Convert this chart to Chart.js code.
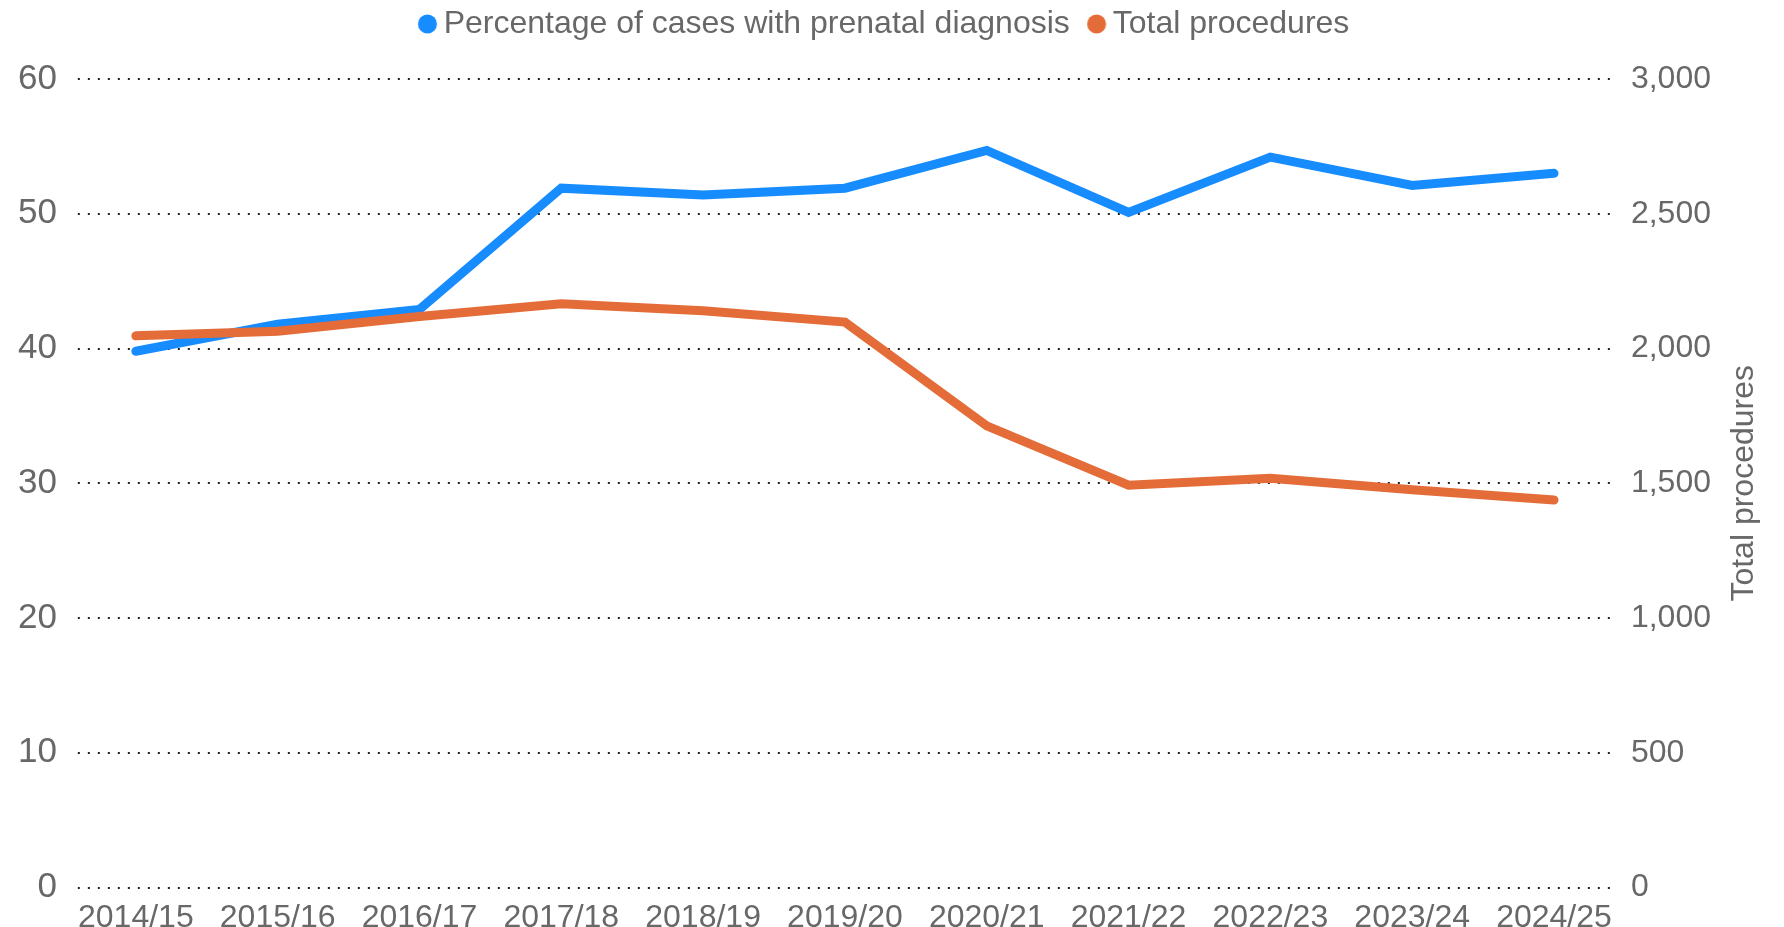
<!DOCTYPE html>
<html>
<head>
<meta charset="utf-8">
<script src="https://cdn.jsdelivr.net/npm/chart.js@4/dist/chart.umd.min.js"></script>
<style>
html,body{margin:0;padding:0;background:#fff}
#wrap{width:1784px;height:927px}
</style>
</head>
<body>
<div id="wrap"><canvas id="lineChart"></canvas></div>
<script>
var years = ['2014/15','2015/16','2016/17','2017/18','2018/19','2019/20','2020/21','2021/22','2022/23','2023/24','2024/25']
var pctPrenatal = [39.8,41.8,42.9,51.9,51.4,51.9,54.7,50.1,54.2,52.1,53.0]
var totalProcedures = [2047,2064,2119,2166,2140,2098,1713,1493,1519,1476,1438]
var seriesNames = ['Percentage of cases with prenatal diagnosis','Total procedures']
var seriesColors = ['#168cff','#e46c38']
var rightTitle = 'Total procedures'
var textGrey = '#686868'
var fontFamily = 'Liberation Sans, Arial, sans-serif'

// legend dot drawn off-centre so it sits closer to its text
const makeDot = function(color){
	var c = document.createElement('canvas')
	c.width = 40
	c.height = 20
	var g = c.getContext('2d')
	g.fillStyle = color
	g.beginPath()
	g.arc(26.3, 10, 9.5, 0, Math.PI * 2)
	g.fill()
	return c
}
var legendDots = seriesColors.map(makeDot)

// push the plot down below the legend
var legendGap = {
	id:'legendGap',
	beforeLayout: function(chart){
		var lg = chart.legend
		if (lg && !lg._gapDone) {
			var fit = lg.fit
			lg.fit = function(){
				fit.call(this)
				this.height += 29
			}
			lg._gapDone = true
		}
	}
}

// dotted gridlines at the left axis ticks, a bit shorter than the chart area
var dottedGrid = {
	id:'dottedGrid',
	beforeDatasetsDraw: function(chart){
		var ctx = chart.ctx
		var x = chart.scales.x
		var y = chart.scales.y
		var x0 = x.getPixelForValue(0) - 58
		var x1 = x.getPixelForValue(years.length - 1) + 60
		ctx.save()
		ctx.strokeStyle = '#222'
		ctx.lineWidth = 2
		ctx.setLineDash([2,8])
		y.ticks.map(t => {
			var py = Math.round(y.getPixelForValue(t.value))
			ctx.beginPath()
			ctx.moveTo(x0, py)
			ctx.lineTo(x1, py)
			ctx.stroke()
		})
		ctx.restore()
	}
}

// right axis title, reading bottom to top
var rightAxisTitle = {
	id:'rightAxisTitle',
	afterDraw: function(chart){
		var ctx = chart.ctx
		var area = chart.chartArea
		ctx.save()
		ctx.translate(1744, (area.top + area.bottom) / 2)
		ctx.rotate(-Math.PI / 2)
		ctx.fillStyle = textGrey
		ctx.font = '32px ' + fontFamily
		ctx.textAlign = 'center'
		ctx.textBaseline = 'middle'
		ctx.fillText(rightTitle, 0, 0)
		ctx.restore()
	}
}

new Chart(document.getElementById('lineChart'),{
	type:'line',
	data:{
		labels:years,
		datasets:[{
			label:seriesNames[0],
			data:pctPrenatal,
			yAxisID:'y',
			borderColor:seriesColors[0],
			backgroundColor:seriesColors[0],
			borderWidth:9,
			borderCapStyle:'round',
			borderJoinStyle:'miter',
			pointRadius:0,
			tension:0,
			order:1
		},
		{
			label:seriesNames[1],
			data:totalProcedures,
			yAxisID:'y1',
			borderColor:seriesColors[1],
			backgroundColor:seriesColors[1],
			borderWidth:9,
			borderCapStyle:'round',
			borderJoinStyle:'miter',
			pointRadius:0,
			tension:0,
			order:0
		}]
	},
	plugins:[legendGap, dottedGrid, rightAxisTitle],
	options:{
		responsive:true,
		maintainAspectRatio:false,
		animation:false,
		layout:{padding:{left:10,right:30,top:-6,bottom:-21}},
		plugins:{
			tooltip:{enabled:false},
			legend:{
				position:'top',
				labels:{
					usePointStyle:true,
					boxWidth:13,
					boxHeight:13,
					padding:14,
					color:textGrey,
					font:{family:fontFamily,size:32},
					sort:function(a,b){return a.datasetIndex-b.datasetIndex},
					generateLabels:function(chart){
						var items = Chart.defaults.plugins.legend.labels.generateLabels(chart)
						items.map(item => {
							item.lineWidth = 0
							item.pointStyle = legendDots[item.datasetIndex]
						})
						return items
					}
				}
			}
		},
		scales:{
			x:{
				offset:true,
				grid:{display:false,drawTicks:false},
				border:{display:false},
				ticks:{color:textGrey,padding:11,maxRotation:0,autoSkip:false,font:{family:fontFamily,size:32}}
			},
			y:{
				position:'left',
				min:0,max:60,
				ticks:{stepSize:10,color:textGrey,padding:8,font:{family:fontFamily,size:35}},
				grid:{display:false,drawTicks:false},
				border:{display:false}
			},
			y1:{
				position:'right',
				min:0,max:3000,
				ticks:{stepSize:500,color:textGrey,padding:6,font:{family:fontFamily,size:32},
					callback:function(v){return v.toLocaleString('en-US')}},
				grid:{display:false,drawTicks:false},
				border:{display:false},
				afterFit:function(scale){ scale.width += 37 }
			}
		}
	}
})
</script>
</body>
</html>
